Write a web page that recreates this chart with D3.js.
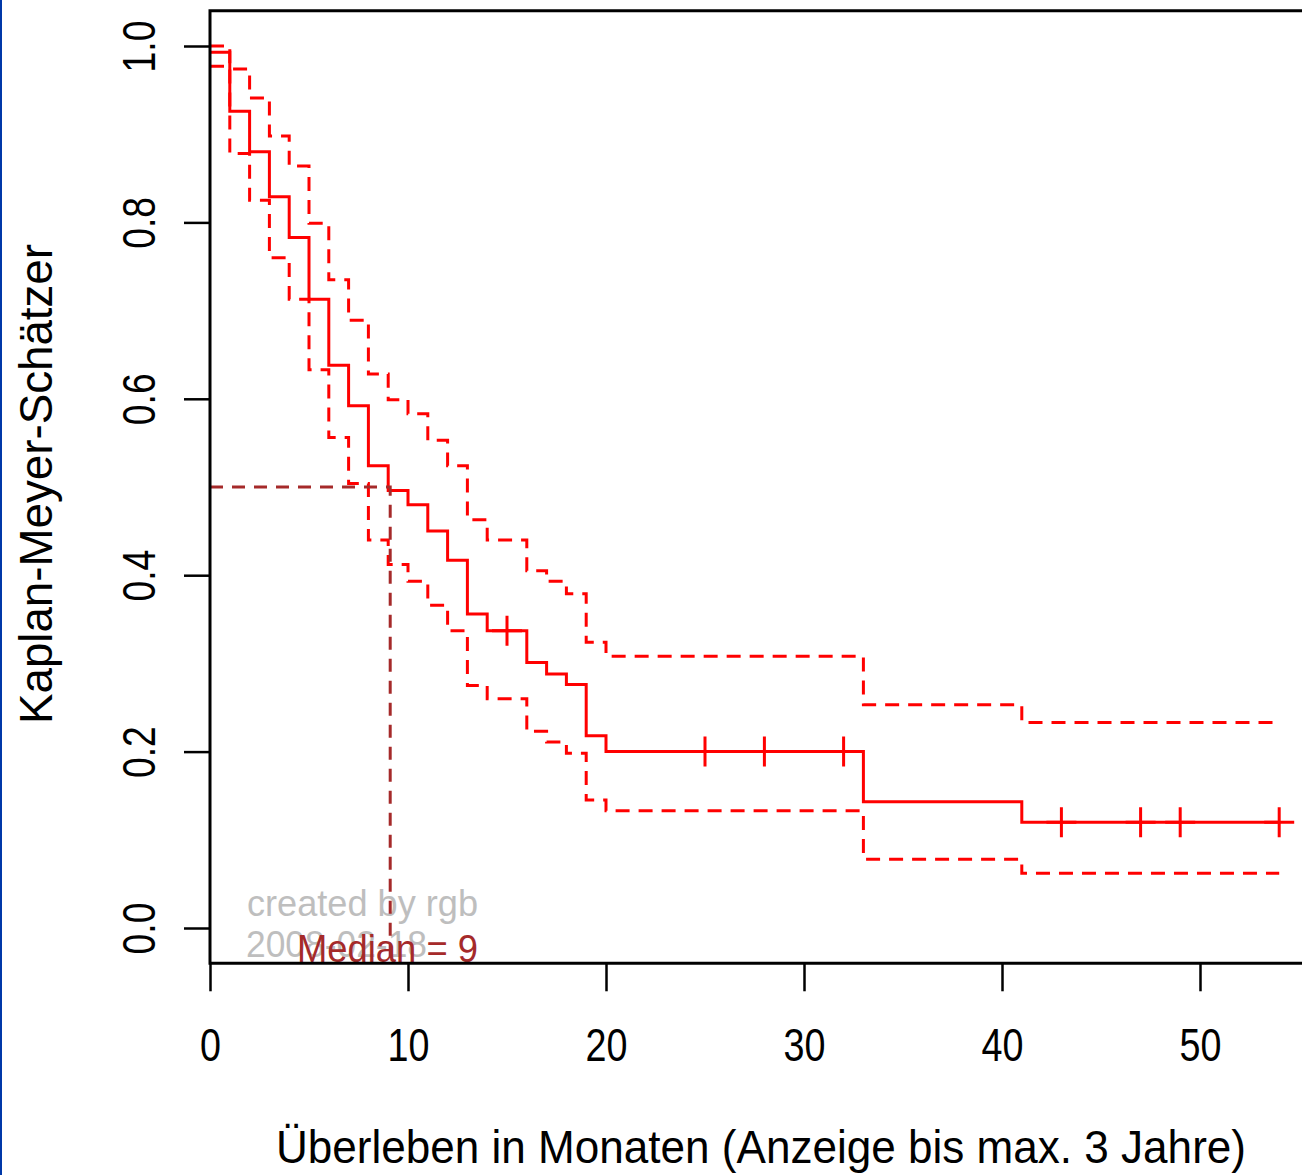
<!DOCTYPE html>
<html lang="de">
<head>
  <meta charset="UTF-8">
  <title>Kaplan-Meyer-Schätzer</title>
  <script src="https://d3js.org/d3.v7.min.js"></script>
  <style>
    body {
      margin: 0;
      background: #fff;
    }
    svg {
      display: block;
      font-family: 'Liberation Sans', Arial, sans-serif;
    }
    .axis path { display: none; }
    .axis line { stroke: #000; stroke-width: 2.5; }
    .axis text { fill: #000; font-size: 46px; }
    .km { fill: none; stroke: #ff0000; stroke-width: 3; }
    .ci { stroke-dasharray: 14 9; }
    .median { fill: none; stroke: #a52a2a; stroke-width: 3; stroke-dasharray: 13 9; }
  </style>
</head>
<body>
<svg id="chart" width="1302" height="1175"></svg>

<script>
// step times (months) and the estimate / confidence band after each step
const months   = [0, 1, 2, 3, 4, 5, 6, 7, 8, 9, 10, 11, 12, 13, 14, 16, 17, 18, 19, 20, 33, 41];
const survival = [0.993, 0.926, 0.880, 0.829, 0.783, 0.713, 0.638, 0.592, 0.524, 0.496, 0.480, 0.450,
                  0.417, 0.356, 0.337, 0.301, 0.288, 0.276, 0.218, 0.200, 0.143, 0.120];
const upper    = [1.000, 0.974, 0.941, 0.898, 0.864, 0.799, 0.735, 0.689, 0.628, 0.599, 0.583, 0.553,
                  0.524, 0.463, 0.440, 0.405, 0.393, 0.379, 0.324, 0.308, 0.253, 0.233];
const lower    = [0.977, 0.878, 0.825, 0.760, 0.713, 0.633, 0.556, 0.504, 0.440, 0.412, 0.393, 0.366,
                  0.337, 0.275, 0.260, 0.223, 0.211, 0.198, 0.145, 0.133, 0.078, 0.062];
const lastTime = 54;
const censorTimes = [15, 25, 28, 32, 43, 47, 49, 54];
const medianTime = 9;
const medianLevel = 0.5;

const xTicks = [0, 10, 20, 30, 40, 50];
const yTicks = [0, 0.2, 0.4, 0.6, 0.8, 1.0];

const svg = d3.select("#chart");

const x = d3.scaleLinear().domain([0, 10]).range([210, 408]);
const y = d3.scaleLinear().domain([0, 1]).range([928, 46]);
const yTop = y(1.04), yBottom = y(-0.04);
const xRight = x(55.6);

// left window border
svg.append("rect").attr("x", 0).attr("y", 0).attr("width", 2).attr("height", 1175).attr("fill", "#0038a8");

// watermark
svg.append("text").attr("x", 247).attr("y", 916).attr("fill", "#bebebe")
  .style("font-size", "36px").attr("textLength", 231).attr("lengthAdjust", "spacingAndGlyphs")
  .text("created by rgb");
svg.append("text").attr("x", 246).attr("y", 957).attr("fill", "#bebebe")
  .style("font-size", "37px").attr("textLength", 181).attr("lengthAdjust", "spacingAndGlyphs")
  .text("2008-02-18");

function stepData(vals) {
  const pts = months.map((m, i) => ({t: m, v: vals[i]}));
  pts.push({t: lastTime, v: vals[vals.length - 1]});
  return pts;
}
const line = d3.line().x(d => x(d.t)).y(d => y(d.v)).curve(d3.curveStepAfter);

[upper, lower].forEach(vals => {
  svg.append("path").datum(stepData(vals)).attr("class", "km ci").attr("d", line);
});
svg.append("path").datum(stepData(survival)).attr("class", "km").attr("d", line);

// censoring marks
const bis = d3.bisector(d => d).right;
svg.append("g").selectAll("path").data(censorTimes).join("path")
  .attr("class", "km")
  .attr("d", t => {
    const v = survival[bis(months, t) - 1];
    const cx = x(t), cy = y(v);
    return `M${cx - 15},${cy}H${cx + 15}M${cx},${cy - 15}V${cy + 15}`;
  });

// median
svg.append("path").attr("class", "median")
  .attr("d", `M${x(0)},${y(medianLevel)}H${x(medianTime) + 2}V${yBottom}`);
svg.append("text").attr("x", 297).attr("y", 962).attr("fill", "#a52a2a")
  .style("font-size", "39px").attr("textLength", 181).attr("lengthAdjust", "spacingAndGlyphs")
  .text("Median = " + medianTime);

// box
svg.append("path").attr("fill", "none").attr("stroke", "#000").attr("stroke-width", 3)
  .attr("d", `M${xRight},${yTop}H${x(0)}V${yBottom}H${xRight}`);

// axes
const xAxis = svg.append("g").attr("class", "axis").attr("transform", `translate(0,${yBottom})`)
  .call(d3.axisBottom(x).tickValues(xTicks).tickSize(28).tickSizeOuter(0).tickFormat(d3.format("d")));
xAxis.selectAll("text").attr("y", 98).attr("dy", null).attr("transform", "scale(0.82,1)");

const yAxis = svg.append("g").attr("class", "axis").attr("transform", `translate(${x(0)},0)`)
  .call(d3.axisLeft(y).tickValues(yTicks).tickSize(26).tickSizeOuter(0).tickFormat(d3.format(".1f")));
yAxis.selectAll("text")
  .attr("x", 0).attr("y", 0).attr("dy", null)
  .attr("text-anchor", "middle")
  .attr("transform", "translate(-55,0) rotate(-90) scale(0.81,1)");

// axis titles
svg.append("text").attr("x", 761).attr("y", 1163).attr("text-anchor", "middle")
  .style("font-size", "47px").attr("textLength", 970).attr("lengthAdjust", "spacingAndGlyphs")
  .text("Überleben in Monaten (Anzeige bis max. 3 Jahre)");
svg.append("text").attr("transform", "translate(52,484) rotate(-90)").attr("text-anchor", "middle")
  .style("font-size", "47px").attr("textLength", 480).attr("lengthAdjust", "spacingAndGlyphs")
  .text("Kaplan-Meyer-Schätzer");
</script>
</body>
</html>
